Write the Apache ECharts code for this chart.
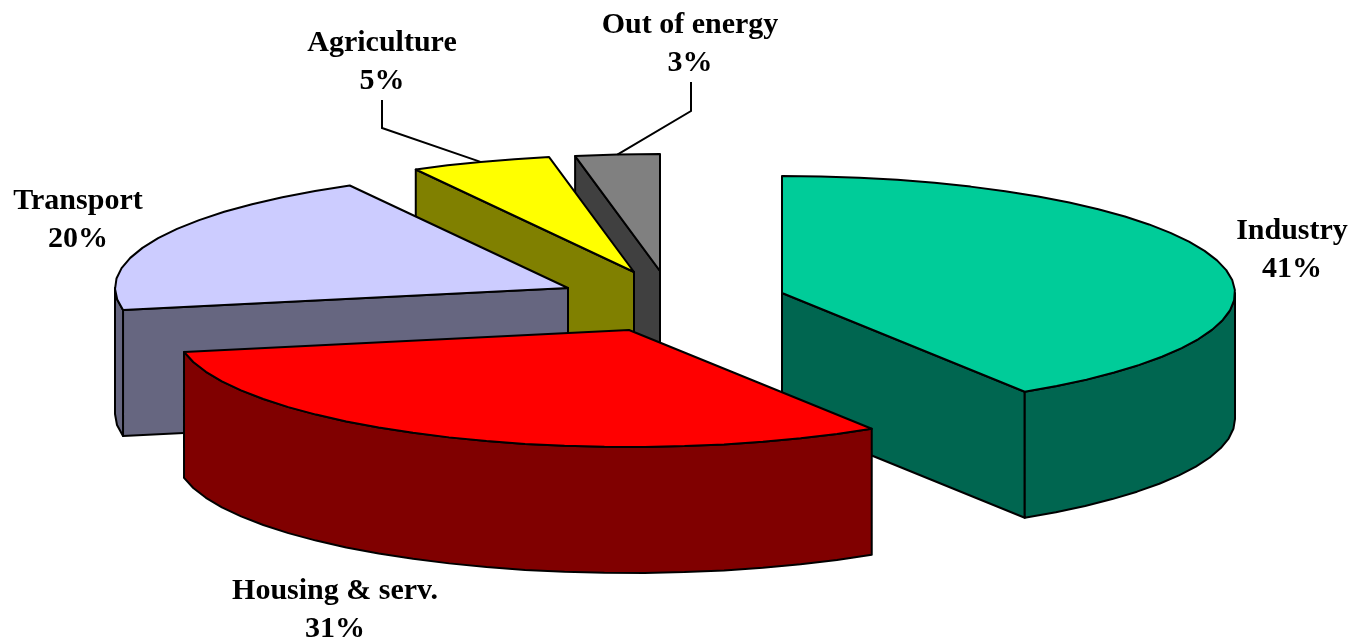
<!DOCTYPE html>
<html>
<head>
<meta charset="utf-8">
<style>html,body{margin:0;padding:0;background:#fff}#chart{width:1353px;height:639px}</style>
<script src="https://cdn.jsdelivr.net/npm/echarts@6/dist/echarts.min.js"></script>
</head>
<body>
<div id="chart"></div>
<script>
// Final energy use by sector, percent of total
const categories = ['Industry', 'Housing & serv.', 'Transport', 'Agriculture', 'Out of energy'];
const shares = [41, 31, 20, 5, 3];

// Top-face and side-face colours per sector
const topColors = ['#00CC99', '#FF0000', '#CCCCFF', '#FFFF00', '#808080'];
const sideColors = ['#006650', '#800000', '#666680', '#808000', '#404040'];

// Tilted-disc projection
const RX = 453, RY = 117, DEPTH = 126, FACET_DEG = 5;
// Hub of each exploded slice
const hubs = [[782, 293], [629, 330], [568, 288], [634, 272], [660, 271]];
// Text anchors (centre of the two-line block)
const labelAt = [[1292, 250], [335, 610], [78, 220], [382, 62], [690, 44]];
// Elbow of the leader line for the small slices: [text end, elbow]
const leaders = [null, null, null, [[382, 100], [382, 128]], [[691, 82], [691, 111]]];
// Paint order, back to front
const paintOrder = [4, 3, 2, 0, 1];

const total = shares.reduce((a, b) => a + b, 0);
const startAngles = [];
shares.reduce((acc, v, i) => { startAngles[i] = acc; return acc + v / total * 2 * Math.PI; }, 0);

function rimPoint(hub, a, dy) {
  return [hub[0] + RX * Math.sin(a), hub[1] - RY * Math.cos(a) + (dy || 0)];
}
function arcAngles(a0, a1) {
  const n = Math.max(1, Math.round((a1 - a0) / (FACET_DEG * Math.PI / 180)));
  const out = [];
  for (let k = 0; k <= n; k++) out.push(a0 + (a1 - a0) * k / n);
  return out;
}
const stroke = { stroke: '#000', lineWidth: 2, lineJoin: 'round' };

function renderSlice(params) {
  const i = paintOrder[params.dataIndex];
  const hub = hubs[i];
  const a0 = startAngles[i];
  const a1 = a0 + shares[i] / total * 2 * Math.PI;
  const side = Object.assign({ fill: sideColors[i] }, stroke);
  const children = [];

  // Radial walls facing the viewer
  const wall = a => ({
    type: 'polygon',
    shape: { points: [hub, rimPoint(hub, a), rimPoint(hub, a, DEPTH), [hub[0], hub[1] + DEPTH]] },
    style: side
  });
  if (Math.sin(a0) < -1e-6) children.push(wall(a0));
  if (Math.sin(a1) > 1e-6) children.push(wall(a1));

  // Outer rim on the near half of the disc
  const r0 = Math.max(a0, Math.PI / 2), r1 = Math.min(a1, 1.5 * Math.PI);
  if (r1 > r0) {
    const arc = arcAngles(r0, r1);
    children.push({
      type: 'polygon',
      shape: { points: arc.map(a => rimPoint(hub, a)).concat(arc.slice().reverse().map(a => rimPoint(hub, a, DEPTH))) },
      style: side
    });
  }

  // Top face
  children.push({
    type: 'polygon',
    shape: { points: [hub].concat(arcAngles(a0, a1).map(a => rimPoint(hub, a))) },
    style: Object.assign({ fill: topColors[i] }, stroke)
  });

  // Leader line, ending on the rim at the middle of the slice
  if (leaders[i]) {
    children.push({
      type: 'polyline',
      shape: { points: leaders[i].concat([rimPoint(hub, (a0 + a1) / 2)]) },
      style: { stroke: '#000', lineWidth: 2, fill: 'none' }
    });
  }

  // Name and share
  children.push({
    type: 'text',
    z2: 10,
    style: {
      x: labelAt[i][0],
      y: labelAt[i][1],
      text: categories[i] + '\n' + shares[i] + '%',
      fill: '#000',
      font: 'bold 30px "Liberation Serif"',
      lineHeight: 38,
      align: 'center',
      verticalAlign: 'middle'
    }
  });
  return { type: 'group', children };
}

const chart = echarts.init(document.getElementById('chart'), null, { renderer: 'canvas' });
chart.setOption({
  backgroundColor: '#fff',
  animation: false,
  series: [{
    type: 'custom',
    coordinateSystem: 'none',
    silent: true,
    renderItem: renderSlice,
    data: paintOrder.map(i => shares[i])
  }]
});
</script>
</body>
</html>
